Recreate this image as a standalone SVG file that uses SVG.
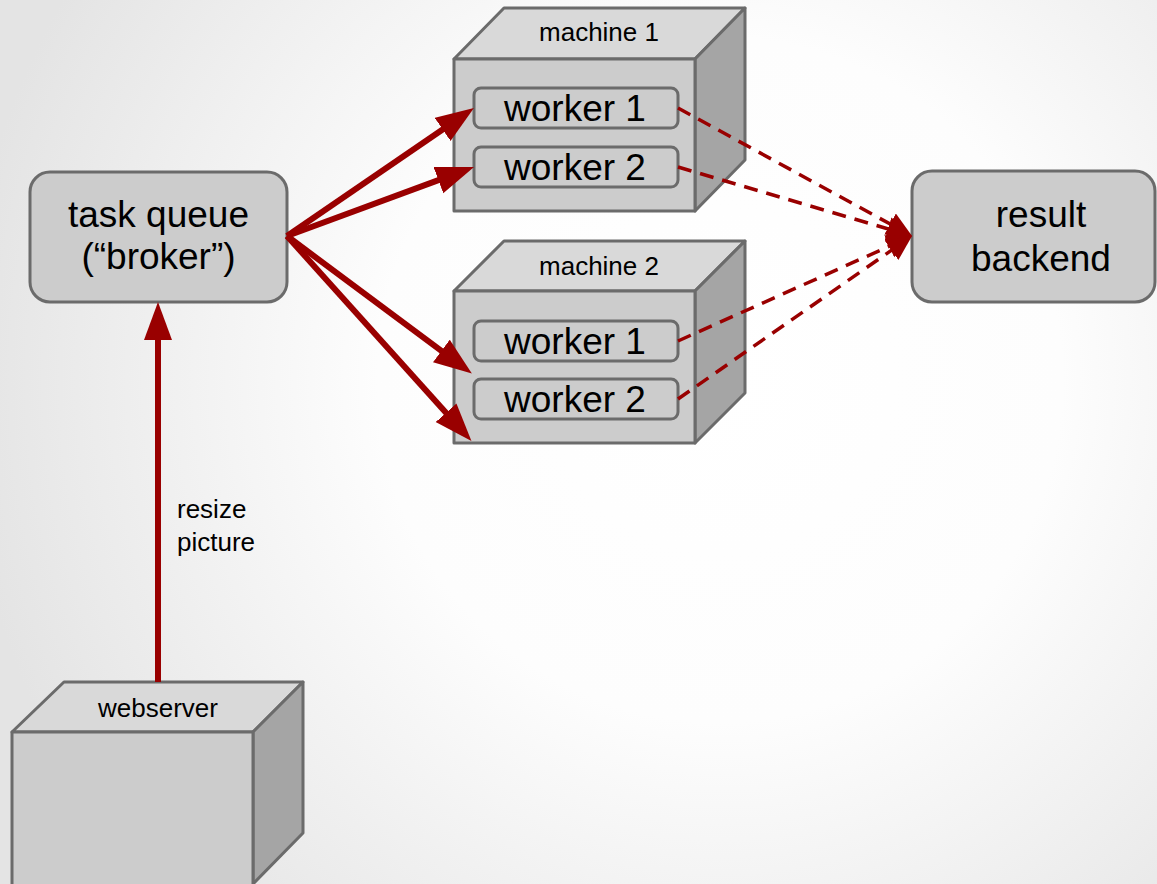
<svg xmlns="http://www.w3.org/2000/svg" width="1157" height="884" viewBox="0 0 1157 884">
<defs>
<radialGradient id="bg" cx="720" cy="380" r="760" gradientUnits="userSpaceOnUse">
<stop offset="0" stop-color="#ffffff"/>
<stop offset="0.45" stop-color="#fdfdfd"/>
<stop offset="1" stop-color="#e4e4e4"/>
</radialGradient>
<marker id="head" markerUnits="userSpaceOnUse" markerWidth="40" markerHeight="30" refX="8" refY="14" orient="auto">
<path d="M0,0 L38,14 L0,28 z" fill="#990000"/>
</marker>
<marker id="headd" markerUnits="userSpaceOnUse" markerWidth="28" markerHeight="26" refX="5" refY="12" orient="auto">
<path d="M0,0 L25,12 L0,24 z" fill="#990000"/>
</marker>
<style>
.front{fill:#cccccc;stroke:#6b6b6b;stroke-width:3;stroke-linejoin:round}
.top{fill:#d9d9d9;stroke:#6b6b6b;stroke-width:3;stroke-linejoin:round}
.side{fill:#a5a5a5;stroke:#6b6b6b;stroke-width:3;stroke-linejoin:round}
.box{fill:#cccccc;stroke:#6b6b6b;stroke-width:3}
.big{font-family:"Liberation Sans",Arial,sans-serif;font-size:37px;fill:#000;text-anchor:middle}
.small{font-family:"Liberation Sans",Arial,sans-serif;font-size:26px;fill:#000;text-anchor:middle}
.lbl{font-family:"Liberation Sans",Arial,sans-serif;font-size:26px;fill:#000}
.solid{stroke:#990000;stroke-width:6;fill:none;marker-end:url(#head)}
.dash{stroke:#990000;stroke-width:3.5;fill:none;stroke-dasharray:14 9;marker-end:url(#headd)}
</style>
</defs>
<rect x="0" y="0" width="1157" height="884" fill="url(#bg)"/>

<g id="machine1">
<polygon class="top" points="454,59 504,8 745,8 695,59"/>
<polygon class="side" points="695,59 745,8 745,160 695,211"/>
<rect class="front" x="454" y="59" width="241" height="152"/>
<text class="small" x="599" y="41">machine 1</text>
</g>
<g id="m1-worker1">
<rect class="box" x="474" y="88" width="204" height="40" rx="7"/>
<text class="big" x="575" y="121">worker 1</text>
</g>
<g id="m1-worker2">
<rect class="box" x="474" y="147" width="204" height="40" rx="7"/>
<text class="big" x="575" y="180">worker 2</text>
</g>

<g id="machine2">
<polygon class="top" points="454,291 504,241 745,241 695,291"/>
<polygon class="side" points="695,291 745,241 745,393 695,443"/>
<rect class="front" x="454" y="291" width="241" height="152"/>
<text class="small" x="599" y="275">machine 2</text>
</g>
<g id="m2-worker1">
<rect class="box" x="474" y="321" width="204" height="40" rx="7"/>
<text class="big" x="575" y="354">worker 1</text>
</g>
<g id="m2-worker2">
<rect class="box" x="474" y="379" width="204" height="40" rx="7"/>
<text class="big" x="575" y="412">worker 2</text>
</g>

<g id="taskqueue">
<rect class="box" x="30" y="172" width="257" height="130" rx="20"/>
<text class="big" x="158.5" y="227">task queue</text>
<text class="big" x="158.5" y="269">(“broker”)</text>
</g>

<g id="resultbackend">
<rect class="box" x="912" y="171" width="243" height="131" rx="20"/>
<text class="big" x="1041" y="227">result</text>
<text class="big" x="1041" y="271">backend</text>
</g>

<g id="webserver">
<polygon class="top" points="12,732 64,682 303,682 253,732"/>
<polygon class="side" points="253,732 303,682 303,833 253,884"/>
<rect class="front" x="12" y="732" width="241" height="160"/>
<text class="small" x="158" y="717">webserver</text>
</g>

<g id="connectors">
<line class="solid" x1="158" y1="682" x2="158" y2="332"/>
<line class="solid" x1="287" y1="236" x2="449.2" y2="124.9"/>
<line class="solid" x1="287" y1="236" x2="445.9" y2="177.4"/>
<line class="solid" x1="287" y1="236" x2="447.8" y2="355.7"/>
<line class="solid" x1="287" y1="236" x2="451.4" y2="418.7"/>
<line class="dash" x1="678" y1="108" x2="894.5" y2="226.4"/>
<line class="dash" x1="678" y1="167" x2="892.8" y2="230.3"/>
<line class="dash" x1="678" y1="341" x2="893.8" y2="244.2"/>
<line class="dash" x1="678" y1="399" x2="895.6" y2="247.4"/>
<text class="lbl" x="177" y="518">resize</text>
<text class="lbl" x="177" y="551">picture</text>
</g>
</svg>
